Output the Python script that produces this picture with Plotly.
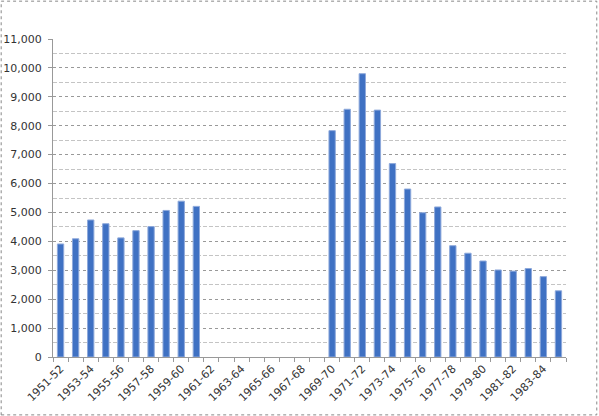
import plotly.graph_objects as go

# Seasons 1951-52 .. 1984-85
seasons = [f"{y}-{str(y + 1)[-2:]}" for y in range(1951, 1985)]
values = [3910, 4090, 4740, 4610, 4120, 4370, 4510, 5070, 5390, 5210,
          None, None, None, None, None, None, None, None,
          7830, 8570, 9800, 8540, 6690, 5810, 4990, 5190,
          3850, 3590, 3320, 3010, 2970, 3060, 2780, 2290]
# only every other season gets a label
tick_text = [s if i % 2 == 0 else "" for i, s in enumerate(seasons)]

fig = go.Figure()
fig.add_trace(go.Bar(
    x=seasons,
    y=values,
    width=0.42,
    marker=dict(color="#3F71C3", line=dict(color="#8EA9DB", width=1)),
))

fig.update_layout(
    width=599,
    height=416,
    margin=dict(l=53, r=33, t=39, b=59),
    plot_bgcolor="white",
    paper_bgcolor="white",
    showlegend=False,
    font=dict(family="DejaVu Sans", size=11, color="#333333"),
    bargap=0.5,
    shapes=[dict(type="rect", xref="paper", yref="paper",
                 x0=-0.101, x1=1.060, y0=-0.182, y1=1.119,
                 line=dict(color="#888888", width=1, dash="dot"))],
)

fig.update_xaxes(
    type="category",
    categoryorder="array",
    categoryarray=seasons,
    tickmode="array",
    tickvals=seasons,
    ticktext=tick_text,
    tickson="boundaries",
    tickangle=-45,
    showgrid=False,
    showline=True,
    linecolor="#999999",
    ticks="outside",
    ticklen=4,
    tickcolor="#999999",
    tickfont=dict(size=11),
    automargin=False,
)

fig.update_yaxes(
    range=[0, 11000],
    dtick=1000,
    tickformat=",",
    showgrid=True,
    gridcolor="#999999",
    griddash="dot",
    gridwidth=1,
    minor=dict(dtick=500, showgrid=True, gridcolor="#c4c4c4", griddash="4px,2px"),
    showline=True,
    linecolor="#999999",
    ticks="outside",
    ticklen=4,
    tickcolor="#999999",
    ticklabelstandoff=4,
    zeroline=False,
    tickfont=dict(size=11),
    automargin=False,
)

# page has a default body margin; remove it so the chart sits at the window corner
fig.write_html("out.html", config={"displayModeBar": False},
               post_script="document.body.style.margin='0';")
